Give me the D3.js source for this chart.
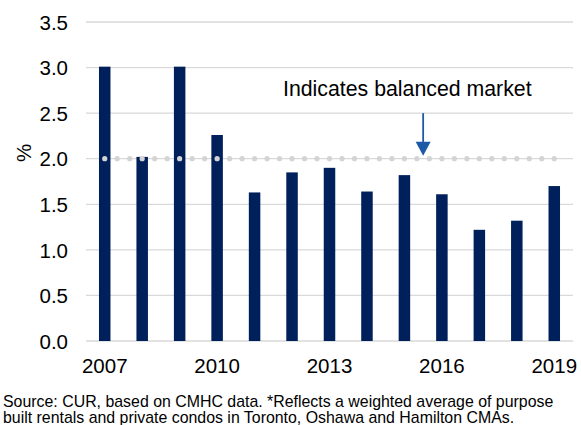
<!DOCTYPE html>
<html>
<head>
<meta charset="utf-8">
<script src="https://cdn.jsdelivr.net/npm/d3@7"></script>
<style>
  html, body { margin: 0; padding: 0; background: #fff; }
  svg { display: block; font-family: "Liberation Sans", Arial, sans-serif; }
</style>
</head>
<body>
<svg id="chart" width="581" height="425"></svg>
<script>
const years = ["2007","2008","2009","2010","2011","2012","2013","2014","2015","2016","2017","2018","2019"];
const rates = [3.01, 2.02, 3.01, 2.26, 1.63, 1.85, 1.90, 1.64, 1.82, 1.61, 1.22, 1.32, 1.70];
const yTicks = [0, 0.5, 1.0, 1.5, 2.0, 2.5, 3.0, 3.5];
const xTickLabels = ["2007","2010","2013","2016","2019"];
const balanced = 2.0;
const annotation = "Indicates balanced market";
const yTitle = "%";
const source = [
  "Source: CUR, based on CMHC data. *Reflects a weighted average of purpose",
  "built rentals and private condos in Toronto, Oshawa and Hamilton CMAs."
];

(function () {
const svg = d3.select("#chart");
const pLeft = 86, pRight = 573, pTop = 22, pBottom = 341;

const x = d3.scaleBand().domain(years).range([pLeft, pRight]).paddingInner(0.693).paddingOuter(0.3465);
const y = d3.scaleLinear().domain([0, 3.5]).range([pBottom, pTop]);

// gridlines
svg.append("g").selectAll("line").data(yTicks).join("line")
  .attr("x1", pLeft).attr("x2", pRight)
  .attr("y1", d => y(d)).attr("y2", d => y(d))
  .attr("stroke", "#d9d9d9").attr("stroke-width", 1.3);

// y tick labels
const yAxis = d3.axisLeft(y).tickValues(yTicks).tickFormat(d3.format(".1f")).tickSize(0).tickPadding(0);
const gy = svg.append("g").attr("transform", `translate(${pLeft - 18},0)`).call(yAxis);
gy.select(".domain").remove();
gy.selectAll("text").attr("font-size", 20.5).attr("fill", "#000").attr("font-family", "Liberation Sans, Arial, sans-serif").attr("dy", "0.35em");

// y title
svg.append("text").attr("transform", `translate(31,153) rotate(-90)`)
  .attr("text-anchor", "middle").attr("font-size", 20.5).attr("fill", "#000").text(yTitle);

// bars
svg.append("g").selectAll("rect").data(years).join("rect")
  .attr("x", d => x(d)).attr("width", x.bandwidth())
  .attr("y", (d, i) => y(rates[i])).attr("height", (d, i) => y(0) - y(rates[i]))
  .attr("fill", "#00205b");

// balanced market dotted line
const step = x.step();
const dots = [];
years.forEach((yr, i) => {
  const c = x(yr) + x.bandwidth() / 2;
  dots.push(c);
  if (i < years.length - 1) { dots.push(c + step / 3); dots.push(c + 2 * step / 3); }
});
svg.append("g").selectAll("circle").data(dots).join("circle")
  .attr("cx", d => d).attr("cy", y(balanced)).attr("r", 2.6).attr("fill", "#d4d4d4");

// x labels
const xAxis = d3.axisBottom(x).tickValues(xTickLabels).tickSize(0).tickPadding(0);
const gx = svg.append("g").attr("transform", `translate(0,${pBottom})`).call(xAxis);
gx.select(".domain").remove();
gx.selectAll("text").attr("font-size", 20.5).attr("fill", "#000").attr("font-family", "Liberation Sans, Arial, sans-serif")
  .attr("y", 32).attr("dy", 0);

// annotation
const ax = (x("2015") + x("2016")) / 2 + x.bandwidth() / 2;
svg.append("text").attr("x", 283).attr("y", 96).attr("font-size", 21.3).attr("fill", "#000").text(annotation);
svg.append("line").attr("x1", ax).attr("x2", ax).attr("y1", y(2.5)).attr("y2", y(balanced) - 16)
  .attr("stroke", "#1c5aa6").attr("stroke-width", 1.8);
svg.append("path")
  .attr("d", `M${ax - 7.5},${y(balanced) - 17} L${ax + 7.5},${y(balanced) - 17} L${ax},${y(balanced) - 3} Z`)
  .attr("fill", "#1c5aa6");

// source
svg.append("g").selectAll("text").data(source).join("text")
  .attr("x", 3).attr("y", (d, i) => 407 + i * 15.5)
  .attr("font-size", 15.9).attr("fill", "#000").text(d => d);
})();
</script>
</body>
</html>
